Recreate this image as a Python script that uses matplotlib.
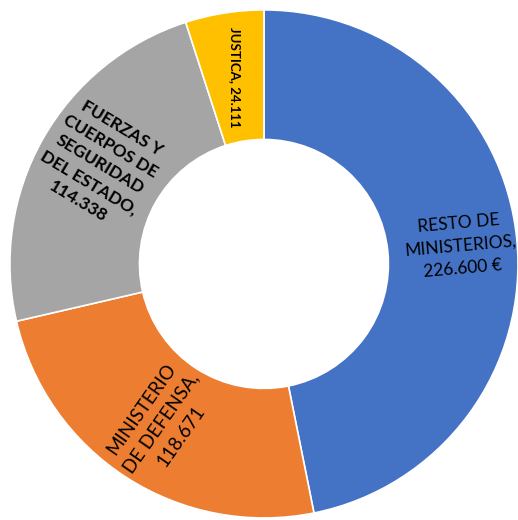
import matplotlib
matplotlib.use("Agg")
import matplotlib.pyplot as plt

# datos del gráfico
categorias = ["RESTO DE\nMINISTERIOS,\n226.600 €", "MINISTERIO\nDE DEFENSA,\n118.671",
              "FUERZAS Y\nCUERPOS DE\nSEGURIDAD\nDEL ESTADO,\n114.338", "JUSTICA, 24.111"]
valores = [226600, 118671, 114338, 24111]
colores = ["#4472C4", "#ED7D31", "#A5A5A5", "#FFC000"]

plt.rcParams['font.family'] = ['Lato', 'DejaVu Sans']

fig = plt.figure(figsize=(5.18, 5.20), dpi=100)
ax = fig.add_axes([0, 0, 1, 1])
ax.pie(valores, colors=colores, startangle=90, counterclock=False, radius=1,
       wedgeprops=dict(width=0.51, edgecolor="white", linewidth=1.2))
ax.set_xlim(-1.039, 1.0)
ax.set_ylim(-1.008, 1.039)
ax.axis("off")

# etiquetas (posición, giro, estilo)
ax.text(0.775, 0.07, categorias[0], ha="center", va="center", rotation=5,
        fontsize=12.5, linespacing=1.5)
ax.text(-0.405, -0.625, categorias[1], ha="center", va="center", rotation=55,
        fontsize=13.5, linespacing=1.5)
ax.text(-0.646, 0.39, categorias[2], ha="center", va="center", rotation=-31,
        fontsize=12.5, fontweight="bold", linespacing=1.4)
ax.text(-0.114, 0.736, categorias[3], ha="center", va="center", rotation=-90,
        fontsize=9.5, fontweight="bold")

fig.savefig("out.png", dpi=100)
